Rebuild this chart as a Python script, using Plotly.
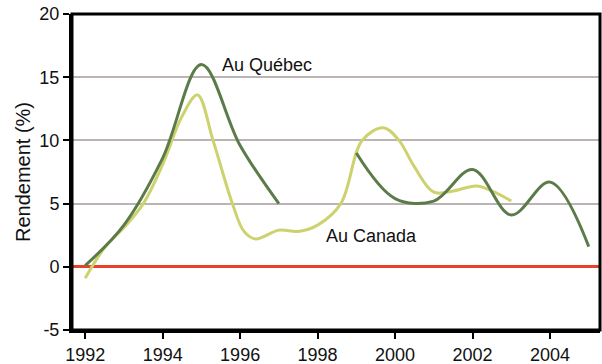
import plotly.graph_objects as go

# Au Québec (gap between 1997 and 1999)
qc_years = [1992, 1993, 1994, 1995, 1996, 1997, 1998, 1999, 2000, 2001, 2002, 2003, 2004, 2005]
qc_vals = [0.1, 3.3, 8.6, 16.0, 9.6, 5.0, None, 9.0, 5.4, 5.2, 7.7, 4.1, 6.7, 1.6]

# Au Canada
ca_years = [1992.0, 1992.5, 1993.0, 1993.5, 1994.0, 1994.5, 1994.9, 1995.3, 1995.8, 1996.1,
            1996.4, 1997.0, 1997.5, 1998.0, 1998.6, 1999.15, 1999.7, 2000.1, 2000.5, 2001.0,
            2001.5, 2002.1, 2002.5, 2003.0]
ca_vals = [-0.9, 1.5, 3.1, 5.0, 8.1, 11.9, 13.6, 10.0, 5.0, 2.8,
           2.2, 2.9, 2.8, 3.3, 5.0, 10.0, 11.0, 10.0, 7.9, 5.9,
           6.0, 6.4, 6.0, 5.2]

x_ticks = [1992, 1994, 1996, 1998, 2000, 2002, 2004]
y_ticks = [-5, 0, 5, 10, 15, 20]
y_labels = ["-5", "0", "5", "10", "15", "20"]

font = "Liberation Sans, Arial, sans-serif"

fig = go.Figure()
fig.add_trace(go.Scatter(x=ca_years, y=ca_vals, mode="lines", name="Au Canada",
                         line=dict(color="#cdd26e", width=3, shape="spline", smoothing=1.0),
                         connectgaps=False))
fig.add_trace(go.Scatter(x=qc_years, y=qc_vals, mode="lines", name="Au Québec",
                         line=dict(color="#5c7b4a", width=3, shape="spline", smoothing=1.0),
                         connectgaps=False))

fig.add_annotation(x=1996.7, y=16.0, text="Au Québec", showarrow=False,
                   font=dict(family=font, size=18, color="#111111"))
fig.add_annotation(x=1999.4, y=2.4, text="Au Canada", showarrow=False,
                   font=dict(family=font, size=18, color="#111111"))

# black frame round the plot area
fig.add_shape(type="rect", xref="paper", yref="paper", x0=0, x1=1, y0=0, y1=1,
              line=dict(color="black", width=3), layer="above")

fig.update_layout(
    width=602, height=364,
    margin=dict(l=72, r=2, t=14, b=34),
    paper_bgcolor="white", plot_bgcolor="white",
    showlegend=False,
    font=dict(family=font, size=18, color="#111111"),
    xaxis=dict(range=[1991.66, 2005.29], tickvals=x_ticks, showgrid=False,
               showline=True, linecolor="black", linewidth=3,
               ticks="outside", ticklen=6, tickwidth=2, tickcolor="black",
               zeroline=False, ticklabeloverflow="allow", automargin=False),
    yaxis=dict(range=[-5, 20], tickvals=y_ticks, ticktext=y_labels, showgrid=True,
               gridcolor="#bcb4b4", gridwidth=2,
               showline=True, linecolor="black", linewidth=3,
               ticks="outside", ticklen=6, tickwidth=2, tickcolor="black",
               zeroline=True, zerolinecolor="#e8402a", zerolinewidth=3,
               ticklabeloverflow="allow", automargin=False,
               title=dict(text="Rendement (%)", font=dict(size=20), standoff=4)),
)

# drop the page's default body margin so the figure fills the window exactly
fig.write_html("out.html", config={"displayModeBar": False},
               post_script="document.body.style.margin='0';document.body.style.overflow='hidden';")
